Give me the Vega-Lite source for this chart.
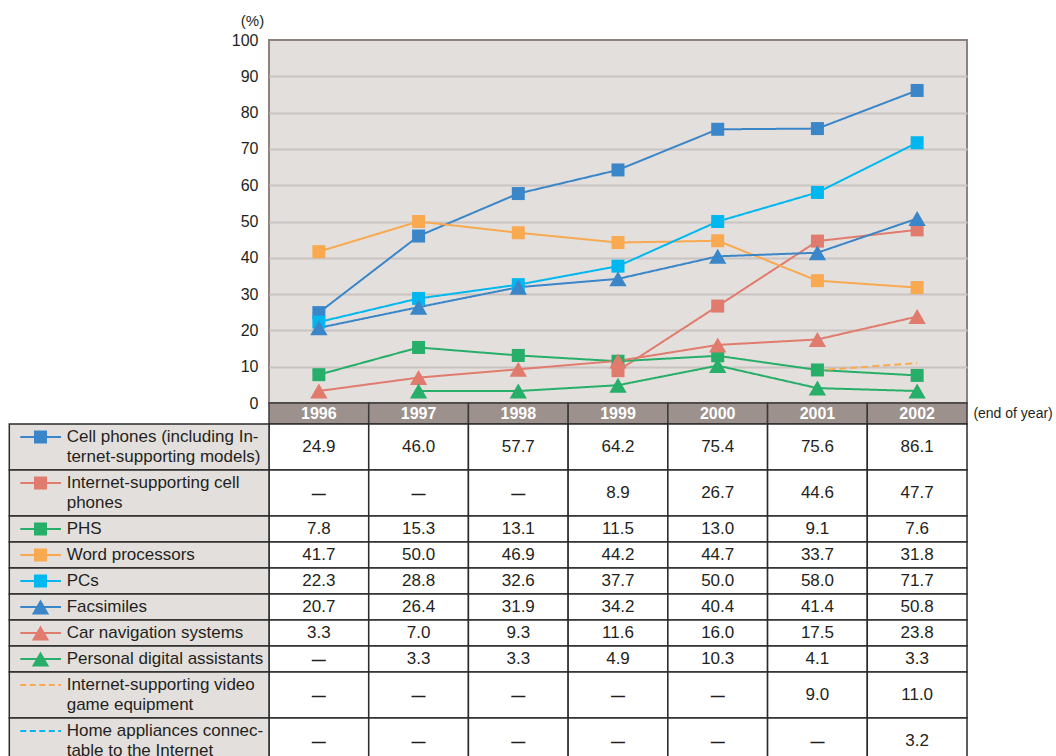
{
  "$schema": "https://vega.github.io/schema/vega-lite/v6.json",
  "background": "white",
  "padding": {"top": 12, "left": 8, "right": 0, "bottom": 0},
  "spacing": 0,
  "bounds": "flush",
  "config": {"font": "Liberation Sans", "view": {"stroke": null}},
  "datasets": {
    "values": [
      {"series": "Cell phones (including Internet-supporting models)", "year": 1996, "value": 24.9},
      {"series": "Cell phones (including Internet-supporting models)", "year": 1997, "value": 46.0},
      {"series": "Cell phones (including Internet-supporting models)", "year": 1998, "value": 57.7},
      {"series": "Cell phones (including Internet-supporting models)", "year": 1999, "value": 64.2},
      {"series": "Cell phones (including Internet-supporting models)", "year": 2000, "value": 75.4},
      {"series": "Cell phones (including Internet-supporting models)", "year": 2001, "value": 75.6},
      {"series": "Cell phones (including Internet-supporting models)", "year": 2002, "value": 86.1},
      {"series": "Internet-supporting cell phones", "year": 1996, "value": null},
      {"series": "Internet-supporting cell phones", "year": 1997, "value": null},
      {"series": "Internet-supporting cell phones", "year": 1998, "value": null},
      {"series": "Internet-supporting cell phones", "year": 1999, "value": 8.9},
      {"series": "Internet-supporting cell phones", "year": 2000, "value": 26.7},
      {"series": "Internet-supporting cell phones", "year": 2001, "value": 44.6},
      {"series": "Internet-supporting cell phones", "year": 2002, "value": 47.7},
      {"series": "PHS", "year": 1996, "value": 7.8},
      {"series": "PHS", "year": 1997, "value": 15.3},
      {"series": "PHS", "year": 1998, "value": 13.1},
      {"series": "PHS", "year": 1999, "value": 11.5},
      {"series": "PHS", "year": 2000, "value": 13.0},
      {"series": "PHS", "year": 2001, "value": 9.1},
      {"series": "PHS", "year": 2002, "value": 7.6},
      {"series": "Word processors", "year": 1996, "value": 41.7},
      {"series": "Word processors", "year": 1997, "value": 50.0},
      {"series": "Word processors", "year": 1998, "value": 46.9},
      {"series": "Word processors", "year": 1999, "value": 44.2},
      {"series": "Word processors", "year": 2000, "value": 44.7},
      {"series": "Word processors", "year": 2001, "value": 33.7},
      {"series": "Word processors", "year": 2002, "value": 31.8},
      {"series": "PCs", "year": 1996, "value": 22.3},
      {"series": "PCs", "year": 1997, "value": 28.8},
      {"series": "PCs", "year": 1998, "value": 32.6},
      {"series": "PCs", "year": 1999, "value": 37.7},
      {"series": "PCs", "year": 2000, "value": 50.0},
      {"series": "PCs", "year": 2001, "value": 58.0},
      {"series": "PCs", "year": 2002, "value": 71.7},
      {"series": "Facsimiles", "year": 1996, "value": 20.7},
      {"series": "Facsimiles", "year": 1997, "value": 26.4},
      {"series": "Facsimiles", "year": 1998, "value": 31.9},
      {"series": "Facsimiles", "year": 1999, "value": 34.2},
      {"series": "Facsimiles", "year": 2000, "value": 40.4},
      {"series": "Facsimiles", "year": 2001, "value": 41.4},
      {"series": "Facsimiles", "year": 2002, "value": 50.8},
      {"series": "Car navigation systems", "year": 1996, "value": 3.3},
      {"series": "Car navigation systems", "year": 1997, "value": 7.0},
      {"series": "Car navigation systems", "year": 1998, "value": 9.3},
      {"series": "Car navigation systems", "year": 1999, "value": 11.6},
      {"series": "Car navigation systems", "year": 2000, "value": 16.0},
      {"series": "Car navigation systems", "year": 2001, "value": 17.5},
      {"series": "Car navigation systems", "year": 2002, "value": 23.8},
      {"series": "Personal digital assistants", "year": 1996, "value": null},
      {"series": "Personal digital assistants", "year": 1997, "value": 3.3},
      {"series": "Personal digital assistants", "year": 1998, "value": 3.3},
      {"series": "Personal digital assistants", "year": 1999, "value": 4.9},
      {"series": "Personal digital assistants", "year": 2000, "value": 10.3},
      {"series": "Personal digital assistants", "year": 2001, "value": 4.1},
      {"series": "Personal digital assistants", "year": 2002, "value": 3.3},
      {"series": "Internet-supporting video game equipment", "year": 1996, "value": null},
      {"series": "Internet-supporting video game equipment", "year": 1997, "value": null},
      {"series": "Internet-supporting video game equipment", "year": 1998, "value": null},
      {"series": "Internet-supporting video game equipment", "year": 1999, "value": null},
      {"series": "Internet-supporting video game equipment", "year": 2000, "value": null},
      {"series": "Internet-supporting video game equipment", "year": 2001, "value": 9.0},
      {"series": "Internet-supporting video game equipment", "year": 2002, "value": 11.0},
      {"series": "Home appliances connectable to the Internet", "year": 1996, "value": null},
      {"series": "Home appliances connectable to the Internet", "year": 1997, "value": null},
      {"series": "Home appliances connectable to the Internet", "year": 1998, "value": null},
      {"series": "Home appliances connectable to the Internet", "year": 1999, "value": null},
      {"series": "Home appliances connectable to the Internet", "year": 2000, "value": null},
      {"series": "Home appliances connectable to the Internet", "year": 2001, "value": null},
      {"series": "Home appliances connectable to the Internet", "year": 2002, "value": 3.2}
    ],
    "info": [
      {"series": "Cell phones (including Internet-supporting models)", "label": "Cell phones (including In-\nternet-supporting models)"},
      {"series": "Internet-supporting cell phones", "label": "Internet-supporting cell\nphones"},
      {"series": "PHS", "label": "PHS"},
      {"series": "Word processors", "label": "Word processors"},
      {"series": "PCs", "label": "PCs"},
      {"series": "Facsimiles", "label": "Facsimiles"},
      {"series": "Car navigation systems", "label": "Car navigation systems"},
      {"series": "Personal digital assistants", "label": "Personal digital assistants"},
      {"series": "Internet-supporting video game equipment", "label": "Internet-supporting video\ngame equipment"},
      {"series": "Home appliances connectable to the Internet", "label": "Home appliances connec-\ntable to the Internet"}
    ]
  },
  "vconcat": [
    {
      "width": 698,
      "height": 363,
      "data": {"name": "values"},
      "view": {"fill": "#e3dfdd", "stroke": "#8e827e", "strokeWidth": 2},
      "encoding": {
        "x": {"field": "year", "type": "ordinal", "axis": null, "scale": {"type": "point", "padding": 0.5, "domain": [1996, 1997, 1998, 1999, 2000, 2001, 2002]}},
        "y": {
          "field": "value", "type": "quantitative",
          "scale": {"domain": [0, 100], "nice": false},
          "axis": {
            "values": [0, 10, 20, 30, 40, 50, 60, 70, 80, 90, 100],
            "title": "(%)", "titleAngle": 0, "titleX": -17, "titleY": -20,
            "titleAlign": "center", "titleBaseline": "middle",
            "titleFontSize": 15, "titleFontWeight": "normal", "titleColor": "#231f20",
            "labelFontSize": 16, "labelColor": "#231f20", "labelPadding": 11, "labelFlush": false,
            "ticks": false, "domain": false, "grid": true, "gridWidth": 2,
            "gridColor": {"condition": {"test": "datum.value === 0 || datum.value === 100", "value": "transparent"}, "value": "#c9c4c1"}
          }
        },
        "color": {
          "field": "series", "type": "nominal", "legend": null,
          "scale": {
            "domain": ["Cell phones (including Internet-supporting models)", "Internet-supporting cell phones", "PHS", "Word processors", "PCs", "Facsimiles", "Car navigation systems", "Personal digital assistants", "Internet-supporting video game equipment", "Home appliances connectable to the Internet"],
            "range": ["#3a86c8", "#e07b6d", "#27ae68", "#f9a94f", "#00b8ef", "#3a86c8", "#e07b6d", "#27ae68", "#f9a94f", "#00b8ef"]
          }
        }
      },
      "layer": [
        {
          "mark": {"type": "line", "strokeWidth": 2},
          "encoding": {
            "strokeDash": {
              "field": "series", "type": "nominal", "legend": null,
              "scale": {
                "domain": ["Cell phones (including Internet-supporting models)", "Internet-supporting cell phones", "PHS", "Word processors", "PCs", "Facsimiles", "Car navigation systems", "Personal digital assistants", "Internet-supporting video game equipment", "Home appliances connectable to the Internet"],
                "range": [[1, 0], [1, 0], [1, 0], [1, 0], [1, 0], [1, 0], [1, 0], [1, 0], [7, 4], [7, 4]]
              }
            }
          }
        },
        {
          "transform": [{"filter": {"field": "series", "oneOf": ["Cell phones (including Internet-supporting models)", "Internet-supporting cell phones", "PHS", "Word processors", "PCs"]}}],
          "mark": {"type": "point", "shape": "square", "size": 169, "filled": true, "opacity": 1}
        },
        {
          "transform": [{"filter": {"field": "series", "oneOf": ["Facsimiles", "Car navigation systems", "Personal digital assistants"]}}],
          "mark": {"type": "point", "shape": "triangle-up", "size": 300, "filled": true, "opacity": 1}
        }
      ]
    },
    {
      "width": 698,
      "height": 21,
      "data": {"name": "values"},
      "transform": [{"filter": {"field": "series", "equal": "PHS"}}],
      "resolve": {"scale": {"x": "independent"}},
      "layer": [
        {
          "mark": {"type": "rect", "fill": "#9d918d", "stroke": "#3a3a3a", "strokeWidth": 1.5},
          "encoding": {"x": {"field": "year", "type": "ordinal", "axis": null, "scale": {"type": "band", "paddingInner": 0, "paddingOuter": 0, "domain": [1996, 1997, 1998, 1999, 2000, 2001, 2002]}}}
        },
        {
          "mark": {"type": "text", "color": "white", "fontWeight": "bold", "fontSize": 16},
          "encoding": {
            "x": {"field": "year", "type": "ordinal", "axis": null, "scale": {"type": "band", "paddingInner": 0, "paddingOuter": 0, "domain": [1996, 1997, 1998, 1999, 2000, 2001, 2002]}},
            "text": {"field": "year", "type": "ordinal"}
          }
        },
        {
          "transform": [{"filter": {"field": "year", "equal": 2002}}],
          "mark": {"type": "text", "text": "(end of year)", "align": "left", "fontSize": 14, "color": "#231f20"},
          "encoding": {"x": {"datum": 7.064, "type": "quantitative", "axis": null, "scale": {"domain": [0, 7], "nice": false, "zero": false}}}
        }
      ]
    },
    {
      "width": 698, "height": 46,
      "resolve": {"scale": {"x": "independent"}},
      "layer": [
        {"data": {"name": "values"}, "transform": [{"filter": {"field": "series", "equal": "Cell phones (including Internet-supporting models)"}}],
         "mark": {"type": "rect", "fill": "white", "stroke": "#2b2b2b", "strokeWidth": 1.5},
         "encoding": {"x": {"field": "year", "type": "ordinal", "axis": null, "scale": {"type": "band", "paddingInner": 0, "paddingOuter": 0, "domain": [1996, 1997, 1998, 1999, 2000, 2001, 2002]}}}},
        {"data": {"name": "values"}, "transform": [{"filter": {"field": "series", "equal": "Cell phones (including Internet-supporting models)"}}, {"filter": "isValid(datum.value)"}],
         "mark": {"type": "text", "fontSize": 17, "color": "#231f20"},
         "encoding": {"x": {"field": "year", "type": "ordinal", "axis": null, "scale": {"type": "band", "paddingInner": 0, "paddingOuter": 0, "domain": [1996, 1997, 1998, 1999, 2000, 2001, 2002]}}, "text": {"field": "value", "type": "quantitative", "format": ".1f"}}},
        {"data": {"name": "info"}, "transform": [{"filter": {"field": "series", "equal": "Cell phones (including Internet-supporting models)"}}],
         "mark": {"type": "rect", "fill": "#e3dfdd", "stroke": "#2b2b2b", "strokeWidth": 1.5},
         "encoding": {"x": {"datum": -2.6045, "type": "quantitative", "axis": null, "scale": {"domain": [0, 7], "nice": false, "zero": false}}, "x2": {"datum": 0}}},
        {"data": {"name": "info"}, "transform": [{"filter": {"field": "series", "equal": "Cell phones (including Internet-supporting models)"}}],
         "mark": {"type": "rule", "color": "#3a86c8", "strokeWidth": 2, "yOffset": -10},
         "encoding": {"x": {"datum": -2.494, "type": "quantitative", "axis": null, "scale": {"domain": [0, 7], "nice": false, "zero": false}}, "x2": {"datum": -2.086}}},
        {"data": {"name": "info"}, "transform": [{"filter": {"field": "series", "equal": "Cell phones (including Internet-supporting models)"}}],
         "mark": {"type": "point", "shape": "square", "size": 169, "filled": true, "opacity": 1, "color": "#3a86c8", "yOffset": -10},
         "encoding": {"x": {"datum": -2.2915, "type": "quantitative", "axis": null, "scale": {"domain": [0, 7], "nice": false, "zero": false}}}},
        {"data": {"name": "info"}, "transform": [{"filter": {"field": "series", "equal": "Cell phones (including Internet-supporting models)"}}],
         "mark": {"type": "text", "align": "left", "fontSize": 17, "lineBreak": "\n", "lineHeight": 20, "color": "#231f20", "yOffset": -10},
         "encoding": {"x": {"datum": -2.029, "type": "quantitative", "axis": null, "scale": {"domain": [0, 7], "nice": false, "zero": false}}, "text": {"field": "label"}}}
      ]
    },
    {
      "width": 698, "height": 46,
      "resolve": {"scale": {"x": "independent"}},
      "layer": [
        {"data": {"name": "values"}, "transform": [{"filter": {"field": "series", "equal": "Internet-supporting cell phones"}}],
         "mark": {"type": "rect", "fill": "white", "stroke": "#2b2b2b", "strokeWidth": 1.5},
         "encoding": {"x": {"field": "year", "type": "ordinal", "axis": null, "scale": {"type": "band", "paddingInner": 0, "paddingOuter": 0, "domain": [1996, 1997, 1998, 1999, 2000, 2001, 2002]}}}},
        {"data": {"name": "values"}, "transform": [{"filter": {"field": "series", "equal": "Internet-supporting cell phones"}}, {"filter": "isValid(datum.value)"}],
         "mark": {"type": "text", "fontSize": 17, "color": "#231f20"},
         "encoding": {"x": {"field": "year", "type": "ordinal", "axis": null, "scale": {"type": "band", "paddingInner": 0, "paddingOuter": 0, "domain": [1996, 1997, 1998, 1999, 2000, 2001, 2002]}}, "text": {"field": "value", "type": "quantitative", "format": ".1f"}}},
        {"data": {"name": "values"}, "transform": [{"filter": {"field": "series", "equal": "Internet-supporting cell phones"}}, {"filter": "!isValid(datum.value)"}],
         "mark": {"type": "text", "text": "—", "fontSize": 14, "fontWeight": "bold", "dy": 2, "color": "#231f20"},
         "encoding": {"x": {"field": "year", "type": "ordinal", "axis": null, "scale": {"type": "band", "paddingInner": 0, "paddingOuter": 0, "domain": [1996, 1997, 1998, 1999, 2000, 2001, 2002]}}}},
        {"data": {"name": "info"}, "transform": [{"filter": {"field": "series", "equal": "Internet-supporting cell phones"}}],
         "mark": {"type": "rect", "fill": "#e3dfdd", "stroke": "#2b2b2b", "strokeWidth": 1.5},
         "encoding": {"x": {"datum": -2.6045, "type": "quantitative", "axis": null, "scale": {"domain": [0, 7], "nice": false, "zero": false}}, "x2": {"datum": 0}}},
        {"data": {"name": "info"}, "transform": [{"filter": {"field": "series", "equal": "Internet-supporting cell phones"}}],
         "mark": {"type": "rule", "color": "#e07b6d", "strokeWidth": 2, "yOffset": -10},
         "encoding": {"x": {"datum": -2.494, "type": "quantitative", "axis": null, "scale": {"domain": [0, 7], "nice": false, "zero": false}}, "x2": {"datum": -2.086}}},
        {"data": {"name": "info"}, "transform": [{"filter": {"field": "series", "equal": "Internet-supporting cell phones"}}],
         "mark": {"type": "point", "shape": "square", "size": 169, "filled": true, "opacity": 1, "color": "#e07b6d", "yOffset": -10},
         "encoding": {"x": {"datum": -2.2915, "type": "quantitative", "axis": null, "scale": {"domain": [0, 7], "nice": false, "zero": false}}}},
        {"data": {"name": "info"}, "transform": [{"filter": {"field": "series", "equal": "Internet-supporting cell phones"}}],
         "mark": {"type": "text", "align": "left", "fontSize": 17, "lineBreak": "\n", "lineHeight": 20, "color": "#231f20", "yOffset": -10},
         "encoding": {"x": {"datum": -2.029, "type": "quantitative", "axis": null, "scale": {"domain": [0, 7], "nice": false, "zero": false}}, "text": {"field": "label"}}}
      ]
    },
    {
      "width": 698, "height": 26,
      "resolve": {"scale": {"x": "independent"}},
      "layer": [
        {"data": {"name": "values"}, "transform": [{"filter": {"field": "series", "equal": "PHS"}}],
         "mark": {"type": "rect", "fill": "white", "stroke": "#2b2b2b", "strokeWidth": 1.5},
         "encoding": {"x": {"field": "year", "type": "ordinal", "axis": null, "scale": {"type": "band", "paddingInner": 0, "paddingOuter": 0, "domain": [1996, 1997, 1998, 1999, 2000, 2001, 2002]}}}},
        {"data": {"name": "values"}, "transform": [{"filter": {"field": "series", "equal": "PHS"}}, {"filter": "isValid(datum.value)"}],
         "mark": {"type": "text", "fontSize": 17, "color": "#231f20"},
         "encoding": {"x": {"field": "year", "type": "ordinal", "axis": null, "scale": {"type": "band", "paddingInner": 0, "paddingOuter": 0, "domain": [1996, 1997, 1998, 1999, 2000, 2001, 2002]}}, "text": {"field": "value", "type": "quantitative", "format": ".1f"}}},
        {"data": {"name": "info"}, "transform": [{"filter": {"field": "series", "equal": "PHS"}}],
         "mark": {"type": "rect", "fill": "#e3dfdd", "stroke": "#2b2b2b", "strokeWidth": 1.5},
         "encoding": {"x": {"datum": -2.6045, "type": "quantitative", "axis": null, "scale": {"domain": [0, 7], "nice": false, "zero": false}}, "x2": {"datum": 0}}},
        {"data": {"name": "info"}, "transform": [{"filter": {"field": "series", "equal": "PHS"}}],
         "mark": {"type": "rule", "color": "#27ae68", "strokeWidth": 2},
         "encoding": {"x": {"datum": -2.494, "type": "quantitative", "axis": null, "scale": {"domain": [0, 7], "nice": false, "zero": false}}, "x2": {"datum": -2.086}}},
        {"data": {"name": "info"}, "transform": [{"filter": {"field": "series", "equal": "PHS"}}],
         "mark": {"type": "point", "shape": "square", "size": 169, "filled": true, "opacity": 1, "color": "#27ae68"},
         "encoding": {"x": {"datum": -2.2915, "type": "quantitative", "axis": null, "scale": {"domain": [0, 7], "nice": false, "zero": false}}}},
        {"data": {"name": "info"}, "transform": [{"filter": {"field": "series", "equal": "PHS"}}],
         "mark": {"type": "text", "align": "left", "fontSize": 17, "lineBreak": "\n", "lineHeight": 20, "color": "#231f20"},
         "encoding": {"x": {"datum": -2.029, "type": "quantitative", "axis": null, "scale": {"domain": [0, 7], "nice": false, "zero": false}}, "text": {"field": "label"}}}
      ]
    },
    {
      "width": 698, "height": 26,
      "resolve": {"scale": {"x": "independent"}},
      "layer": [
        {"data": {"name": "values"}, "transform": [{"filter": {"field": "series", "equal": "Word processors"}}],
         "mark": {"type": "rect", "fill": "white", "stroke": "#2b2b2b", "strokeWidth": 1.5},
         "encoding": {"x": {"field": "year", "type": "ordinal", "axis": null, "scale": {"type": "band", "paddingInner": 0, "paddingOuter": 0, "domain": [1996, 1997, 1998, 1999, 2000, 2001, 2002]}}}},
        {"data": {"name": "values"}, "transform": [{"filter": {"field": "series", "equal": "Word processors"}}, {"filter": "isValid(datum.value)"}],
         "mark": {"type": "text", "fontSize": 17, "color": "#231f20"},
         "encoding": {"x": {"field": "year", "type": "ordinal", "axis": null, "scale": {"type": "band", "paddingInner": 0, "paddingOuter": 0, "domain": [1996, 1997, 1998, 1999, 2000, 2001, 2002]}}, "text": {"field": "value", "type": "quantitative", "format": ".1f"}}},
        {"data": {"name": "info"}, "transform": [{"filter": {"field": "series", "equal": "Word processors"}}],
         "mark": {"type": "rect", "fill": "#e3dfdd", "stroke": "#2b2b2b", "strokeWidth": 1.5},
         "encoding": {"x": {"datum": -2.6045, "type": "quantitative", "axis": null, "scale": {"domain": [0, 7], "nice": false, "zero": false}}, "x2": {"datum": 0}}},
        {"data": {"name": "info"}, "transform": [{"filter": {"field": "series", "equal": "Word processors"}}],
         "mark": {"type": "rule", "color": "#f9a94f", "strokeWidth": 2},
         "encoding": {"x": {"datum": -2.494, "type": "quantitative", "axis": null, "scale": {"domain": [0, 7], "nice": false, "zero": false}}, "x2": {"datum": -2.086}}},
        {"data": {"name": "info"}, "transform": [{"filter": {"field": "series", "equal": "Word processors"}}],
         "mark": {"type": "point", "shape": "square", "size": 169, "filled": true, "opacity": 1, "color": "#f9a94f"},
         "encoding": {"x": {"datum": -2.2915, "type": "quantitative", "axis": null, "scale": {"domain": [0, 7], "nice": false, "zero": false}}}},
        {"data": {"name": "info"}, "transform": [{"filter": {"field": "series", "equal": "Word processors"}}],
         "mark": {"type": "text", "align": "left", "fontSize": 17, "lineBreak": "\n", "lineHeight": 20, "color": "#231f20"},
         "encoding": {"x": {"datum": -2.029, "type": "quantitative", "axis": null, "scale": {"domain": [0, 7], "nice": false, "zero": false}}, "text": {"field": "label"}}}
      ]
    },
    {
      "width": 698, "height": 26,
      "resolve": {"scale": {"x": "independent"}},
      "layer": [
        {"data": {"name": "values"}, "transform": [{"filter": {"field": "series", "equal": "PCs"}}],
         "mark": {"type": "rect", "fill": "white", "stroke": "#2b2b2b", "strokeWidth": 1.5},
         "encoding": {"x": {"field": "year", "type": "ordinal", "axis": null, "scale": {"type": "band", "paddingInner": 0, "paddingOuter": 0, "domain": [1996, 1997, 1998, 1999, 2000, 2001, 2002]}}}},
        {"data": {"name": "values"}, "transform": [{"filter": {"field": "series", "equal": "PCs"}}, {"filter": "isValid(datum.value)"}],
         "mark": {"type": "text", "fontSize": 17, "color": "#231f20"},
         "encoding": {"x": {"field": "year", "type": "ordinal", "axis": null, "scale": {"type": "band", "paddingInner": 0, "paddingOuter": 0, "domain": [1996, 1997, 1998, 1999, 2000, 2001, 2002]}}, "text": {"field": "value", "type": "quantitative", "format": ".1f"}}},
        {"data": {"name": "info"}, "transform": [{"filter": {"field": "series", "equal": "PCs"}}],
         "mark": {"type": "rect", "fill": "#e3dfdd", "stroke": "#2b2b2b", "strokeWidth": 1.5},
         "encoding": {"x": {"datum": -2.6045, "type": "quantitative", "axis": null, "scale": {"domain": [0, 7], "nice": false, "zero": false}}, "x2": {"datum": 0}}},
        {"data": {"name": "info"}, "transform": [{"filter": {"field": "series", "equal": "PCs"}}],
         "mark": {"type": "rule", "color": "#00b8ef", "strokeWidth": 2},
         "encoding": {"x": {"datum": -2.494, "type": "quantitative", "axis": null, "scale": {"domain": [0, 7], "nice": false, "zero": false}}, "x2": {"datum": -2.086}}},
        {"data": {"name": "info"}, "transform": [{"filter": {"field": "series", "equal": "PCs"}}],
         "mark": {"type": "point", "shape": "square", "size": 169, "filled": true, "opacity": 1, "color": "#00b8ef"},
         "encoding": {"x": {"datum": -2.2915, "type": "quantitative", "axis": null, "scale": {"domain": [0, 7], "nice": false, "zero": false}}}},
        {"data": {"name": "info"}, "transform": [{"filter": {"field": "series", "equal": "PCs"}}],
         "mark": {"type": "text", "align": "left", "fontSize": 17, "lineBreak": "\n", "lineHeight": 20, "color": "#231f20"},
         "encoding": {"x": {"datum": -2.029, "type": "quantitative", "axis": null, "scale": {"domain": [0, 7], "nice": false, "zero": false}}, "text": {"field": "label"}}}
      ]
    },
    {
      "width": 698, "height": 26,
      "resolve": {"scale": {"x": "independent"}},
      "layer": [
        {"data": {"name": "values"}, "transform": [{"filter": {"field": "series", "equal": "Facsimiles"}}],
         "mark": {"type": "rect", "fill": "white", "stroke": "#2b2b2b", "strokeWidth": 1.5},
         "encoding": {"x": {"field": "year", "type": "ordinal", "axis": null, "scale": {"type": "band", "paddingInner": 0, "paddingOuter": 0, "domain": [1996, 1997, 1998, 1999, 2000, 2001, 2002]}}}},
        {"data": {"name": "values"}, "transform": [{"filter": {"field": "series", "equal": "Facsimiles"}}, {"filter": "isValid(datum.value)"}],
         "mark": {"type": "text", "fontSize": 17, "color": "#231f20"},
         "encoding": {"x": {"field": "year", "type": "ordinal", "axis": null, "scale": {"type": "band", "paddingInner": 0, "paddingOuter": 0, "domain": [1996, 1997, 1998, 1999, 2000, 2001, 2002]}}, "text": {"field": "value", "type": "quantitative", "format": ".1f"}}},
        {"data": {"name": "info"}, "transform": [{"filter": {"field": "series", "equal": "Facsimiles"}}],
         "mark": {"type": "rect", "fill": "#e3dfdd", "stroke": "#2b2b2b", "strokeWidth": 1.5},
         "encoding": {"x": {"datum": -2.6045, "type": "quantitative", "axis": null, "scale": {"domain": [0, 7], "nice": false, "zero": false}}, "x2": {"datum": 0}}},
        {"data": {"name": "info"}, "transform": [{"filter": {"field": "series", "equal": "Facsimiles"}}],
         "mark": {"type": "rule", "color": "#3a86c8", "strokeWidth": 2},
         "encoding": {"x": {"datum": -2.494, "type": "quantitative", "axis": null, "scale": {"domain": [0, 7], "nice": false, "zero": false}}, "x2": {"datum": -2.086}}},
        {"data": {"name": "info"}, "transform": [{"filter": {"field": "series", "equal": "Facsimiles"}}],
         "mark": {"type": "point", "shape": "triangle-up", "size": 300, "filled": true, "opacity": 1, "color": "#3a86c8"},
         "encoding": {"x": {"datum": -2.2915, "type": "quantitative", "axis": null, "scale": {"domain": [0, 7], "nice": false, "zero": false}}}},
        {"data": {"name": "info"}, "transform": [{"filter": {"field": "series", "equal": "Facsimiles"}}],
         "mark": {"type": "text", "align": "left", "fontSize": 17, "lineBreak": "\n", "lineHeight": 20, "color": "#231f20"},
         "encoding": {"x": {"datum": -2.029, "type": "quantitative", "axis": null, "scale": {"domain": [0, 7], "nice": false, "zero": false}}, "text": {"field": "label"}}}
      ]
    },
    {
      "width": 698, "height": 26,
      "resolve": {"scale": {"x": "independent"}},
      "layer": [
        {"data": {"name": "values"}, "transform": [{"filter": {"field": "series", "equal": "Car navigation systems"}}],
         "mark": {"type": "rect", "fill": "white", "stroke": "#2b2b2b", "strokeWidth": 1.5},
         "encoding": {"x": {"field": "year", "type": "ordinal", "axis": null, "scale": {"type": "band", "paddingInner": 0, "paddingOuter": 0, "domain": [1996, 1997, 1998, 1999, 2000, 2001, 2002]}}}},
        {"data": {"name": "values"}, "transform": [{"filter": {"field": "series", "equal": "Car navigation systems"}}, {"filter": "isValid(datum.value)"}],
         "mark": {"type": "text", "fontSize": 17, "color": "#231f20"},
         "encoding": {"x": {"field": "year", "type": "ordinal", "axis": null, "scale": {"type": "band", "paddingInner": 0, "paddingOuter": 0, "domain": [1996, 1997, 1998, 1999, 2000, 2001, 2002]}}, "text": {"field": "value", "type": "quantitative", "format": ".1f"}}},
        {"data": {"name": "info"}, "transform": [{"filter": {"field": "series", "equal": "Car navigation systems"}}],
         "mark": {"type": "rect", "fill": "#e3dfdd", "stroke": "#2b2b2b", "strokeWidth": 1.5},
         "encoding": {"x": {"datum": -2.6045, "type": "quantitative", "axis": null, "scale": {"domain": [0, 7], "nice": false, "zero": false}}, "x2": {"datum": 0}}},
        {"data": {"name": "info"}, "transform": [{"filter": {"field": "series", "equal": "Car navigation systems"}}],
         "mark": {"type": "rule", "color": "#e07b6d", "strokeWidth": 2},
         "encoding": {"x": {"datum": -2.494, "type": "quantitative", "axis": null, "scale": {"domain": [0, 7], "nice": false, "zero": false}}, "x2": {"datum": -2.086}}},
        {"data": {"name": "info"}, "transform": [{"filter": {"field": "series", "equal": "Car navigation systems"}}],
         "mark": {"type": "point", "shape": "triangle-up", "size": 300, "filled": true, "opacity": 1, "color": "#e07b6d"},
         "encoding": {"x": {"datum": -2.2915, "type": "quantitative", "axis": null, "scale": {"domain": [0, 7], "nice": false, "zero": false}}}},
        {"data": {"name": "info"}, "transform": [{"filter": {"field": "series", "equal": "Car navigation systems"}}],
         "mark": {"type": "text", "align": "left", "fontSize": 17, "lineBreak": "\n", "lineHeight": 20, "color": "#231f20"},
         "encoding": {"x": {"datum": -2.029, "type": "quantitative", "axis": null, "scale": {"domain": [0, 7], "nice": false, "zero": false}}, "text": {"field": "label"}}}
      ]
    },
    {
      "width": 698, "height": 26,
      "resolve": {"scale": {"x": "independent"}},
      "layer": [
        {"data": {"name": "values"}, "transform": [{"filter": {"field": "series", "equal": "Personal digital assistants"}}],
         "mark": {"type": "rect", "fill": "white", "stroke": "#2b2b2b", "strokeWidth": 1.5},
         "encoding": {"x": {"field": "year", "type": "ordinal", "axis": null, "scale": {"type": "band", "paddingInner": 0, "paddingOuter": 0, "domain": [1996, 1997, 1998, 1999, 2000, 2001, 2002]}}}},
        {"data": {"name": "values"}, "transform": [{"filter": {"field": "series", "equal": "Personal digital assistants"}}, {"filter": "isValid(datum.value)"}],
         "mark": {"type": "text", "fontSize": 17, "color": "#231f20"},
         "encoding": {"x": {"field": "year", "type": "ordinal", "axis": null, "scale": {"type": "band", "paddingInner": 0, "paddingOuter": 0, "domain": [1996, 1997, 1998, 1999, 2000, 2001, 2002]}}, "text": {"field": "value", "type": "quantitative", "format": ".1f"}}},
        {"data": {"name": "values"}, "transform": [{"filter": {"field": "series", "equal": "Personal digital assistants"}}, {"filter": "!isValid(datum.value)"}],
         "mark": {"type": "text", "text": "—", "fontSize": 14, "fontWeight": "bold", "dy": 2, "color": "#231f20"},
         "encoding": {"x": {"field": "year", "type": "ordinal", "axis": null, "scale": {"type": "band", "paddingInner": 0, "paddingOuter": 0, "domain": [1996, 1997, 1998, 1999, 2000, 2001, 2002]}}}},
        {"data": {"name": "info"}, "transform": [{"filter": {"field": "series", "equal": "Personal digital assistants"}}],
         "mark": {"type": "rect", "fill": "#e3dfdd", "stroke": "#2b2b2b", "strokeWidth": 1.5},
         "encoding": {"x": {"datum": -2.6045, "type": "quantitative", "axis": null, "scale": {"domain": [0, 7], "nice": false, "zero": false}}, "x2": {"datum": 0}}},
        {"data": {"name": "info"}, "transform": [{"filter": {"field": "series", "equal": "Personal digital assistants"}}],
         "mark": {"type": "rule", "color": "#27ae68", "strokeWidth": 2},
         "encoding": {"x": {"datum": -2.494, "type": "quantitative", "axis": null, "scale": {"domain": [0, 7], "nice": false, "zero": false}}, "x2": {"datum": -2.086}}},
        {"data": {"name": "info"}, "transform": [{"filter": {"field": "series", "equal": "Personal digital assistants"}}],
         "mark": {"type": "point", "shape": "triangle-up", "size": 300, "filled": true, "opacity": 1, "color": "#27ae68"},
         "encoding": {"x": {"datum": -2.2915, "type": "quantitative", "axis": null, "scale": {"domain": [0, 7], "nice": false, "zero": false}}}},
        {"data": {"name": "info"}, "transform": [{"filter": {"field": "series", "equal": "Personal digital assistants"}}],
         "mark": {"type": "text", "align": "left", "fontSize": 17, "lineBreak": "\n", "lineHeight": 20, "color": "#231f20"},
         "encoding": {"x": {"datum": -2.029, "type": "quantitative", "axis": null, "scale": {"domain": [0, 7], "nice": false, "zero": false}}, "text": {"field": "label"}}}
      ]
    },
    {
      "width": 698, "height": 46,
      "resolve": {"scale": {"x": "independent"}},
      "layer": [
        {"data": {"name": "values"}, "transform": [{"filter": {"field": "series", "equal": "Internet-supporting video game equipment"}}],
         "mark": {"type": "rect", "fill": "white", "stroke": "#2b2b2b", "strokeWidth": 1.5},
         "encoding": {"x": {"field": "year", "type": "ordinal", "axis": null, "scale": {"type": "band", "paddingInner": 0, "paddingOuter": 0, "domain": [1996, 1997, 1998, 1999, 2000, 2001, 2002]}}}},
        {"data": {"name": "values"}, "transform": [{"filter": {"field": "series", "equal": "Internet-supporting video game equipment"}}, {"filter": "isValid(datum.value)"}],
         "mark": {"type": "text", "fontSize": 17, "color": "#231f20"},
         "encoding": {"x": {"field": "year", "type": "ordinal", "axis": null, "scale": {"type": "band", "paddingInner": 0, "paddingOuter": 0, "domain": [1996, 1997, 1998, 1999, 2000, 2001, 2002]}}, "text": {"field": "value", "type": "quantitative", "format": ".1f"}}},
        {"data": {"name": "values"}, "transform": [{"filter": {"field": "series", "equal": "Internet-supporting video game equipment"}}, {"filter": "!isValid(datum.value)"}],
         "mark": {"type": "text", "text": "—", "fontSize": 14, "fontWeight": "bold", "dy": 2, "color": "#231f20"},
         "encoding": {"x": {"field": "year", "type": "ordinal", "axis": null, "scale": {"type": "band", "paddingInner": 0, "paddingOuter": 0, "domain": [1996, 1997, 1998, 1999, 2000, 2001, 2002]}}}},
        {"data": {"name": "info"}, "transform": [{"filter": {"field": "series", "equal": "Internet-supporting video game equipment"}}],
         "mark": {"type": "rect", "fill": "#e3dfdd", "stroke": "#2b2b2b", "strokeWidth": 1.5},
         "encoding": {"x": {"datum": -2.6045, "type": "quantitative", "axis": null, "scale": {"domain": [0, 7], "nice": false, "zero": false}}, "x2": {"datum": 0}}},
        {"data": {"name": "info"}, "transform": [{"filter": {"field": "series", "equal": "Internet-supporting video game equipment"}}],
         "mark": {"type": "rule", "color": "#f9a94f", "strokeWidth": 2, "strokeDash": [6, 3.5], "yOffset": -10},
         "encoding": {"x": {"datum": -2.494, "type": "quantitative", "axis": null, "scale": {"domain": [0, 7], "nice": false, "zero": false}}, "x2": {"datum": -2.086}}},
        {"data": {"name": "info"}, "transform": [{"filter": {"field": "series", "equal": "Internet-supporting video game equipment"}}],
         "mark": {"type": "text", "align": "left", "fontSize": 17, "lineBreak": "\n", "lineHeight": 20, "color": "#231f20", "yOffset": -10},
         "encoding": {"x": {"datum": -2.029, "type": "quantitative", "axis": null, "scale": {"domain": [0, 7], "nice": false, "zero": false}}, "text": {"field": "label"}}}
      ]
    },
    {
      "width": 698, "height": 46,
      "resolve": {"scale": {"x": "independent"}},
      "layer": [
        {"data": {"name": "values"}, "transform": [{"filter": {"field": "series", "equal": "Home appliances connectable to the Internet"}}],
         "mark": {"type": "rect", "fill": "white", "stroke": "#2b2b2b", "strokeWidth": 1.5},
         "encoding": {"x": {"field": "year", "type": "ordinal", "axis": null, "scale": {"type": "band", "paddingInner": 0, "paddingOuter": 0, "domain": [1996, 1997, 1998, 1999, 2000, 2001, 2002]}}}},
        {"data": {"name": "values"}, "transform": [{"filter": {"field": "series", "equal": "Home appliances connectable to the Internet"}}, {"filter": "isValid(datum.value)"}],
         "mark": {"type": "text", "fontSize": 17, "color": "#231f20"},
         "encoding": {"x": {"field": "year", "type": "ordinal", "axis": null, "scale": {"type": "band", "paddingInner": 0, "paddingOuter": 0, "domain": [1996, 1997, 1998, 1999, 2000, 2001, 2002]}}, "text": {"field": "value", "type": "quantitative", "format": ".1f"}}},
        {"data": {"name": "values"}, "transform": [{"filter": {"field": "series", "equal": "Home appliances connectable to the Internet"}}, {"filter": "!isValid(datum.value)"}],
         "mark": {"type": "text", "text": "—", "fontSize": 14, "fontWeight": "bold", "dy": 2, "color": "#231f20"},
         "encoding": {"x": {"field": "year", "type": "ordinal", "axis": null, "scale": {"type": "band", "paddingInner": 0, "paddingOuter": 0, "domain": [1996, 1997, 1998, 1999, 2000, 2001, 2002]}}}},
        {"data": {"name": "info"}, "transform": [{"filter": {"field": "series", "equal": "Home appliances connectable to the Internet"}}],
         "mark": {"type": "rect", "fill": "#e3dfdd", "stroke": "#2b2b2b", "strokeWidth": 1.5},
         "encoding": {"x": {"datum": -2.6045, "type": "quantitative", "axis": null, "scale": {"domain": [0, 7], "nice": false, "zero": false}}, "x2": {"datum": 0}}},
        {"data": {"name": "info"}, "transform": [{"filter": {"field": "series", "equal": "Home appliances connectable to the Internet"}}],
         "mark": {"type": "rule", "color": "#00b8ef", "strokeWidth": 2, "strokeDash": [6, 3.5], "yOffset": -10},
         "encoding": {"x": {"datum": -2.494, "type": "quantitative", "axis": null, "scale": {"domain": [0, 7], "nice": false, "zero": false}}, "x2": {"datum": -2.086}}},
        {"data": {"name": "info"}, "transform": [{"filter": {"field": "series", "equal": "Home appliances connectable to the Internet"}}],
         "mark": {"type": "text", "align": "left", "fontSize": 17, "lineBreak": "\n", "lineHeight": 20, "color": "#231f20", "yOffset": -10},
         "encoding": {"x": {"datum": -2.029, "type": "quantitative", "axis": null, "scale": {"domain": [0, 7], "nice": false, "zero": false}}, "text": {"field": "label"}}}
      ]
    }
  ]
}
